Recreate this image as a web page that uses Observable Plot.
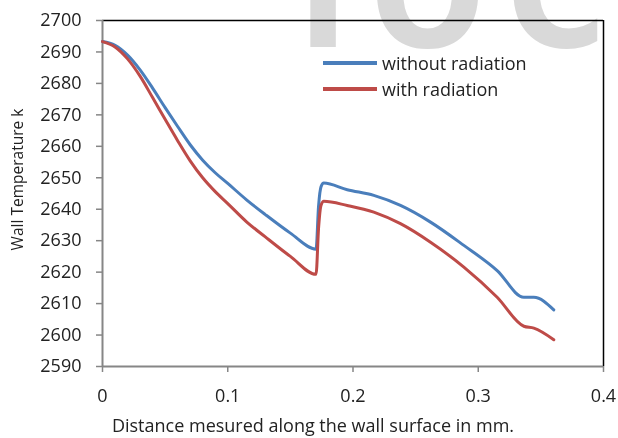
<!DOCTYPE html>
<html><head><meta charset="utf-8">
<script src="https://cdn.jsdelivr.net/npm/d3@7"></script>
<script src="https://cdn.jsdelivr.net/npm/@observablehq/plot@0.6"></script>
<style>
html,body{margin:0;padding:0;background:#fff;}
#wrap{position:relative;width:618px;height:438px;overflow:hidden;font-family:"Open Sans";}
#wm{position:absolute;left:0;top:0;}
#chart{position:absolute;left:0;top:0;}
.legend{position:absolute;left:323px;top:50px;font-size:18px;color:#222;line-height:26px;}
.item{display:flex;align-items:center;height:26px;}
.swatch{width:54px;height:3.5px;margin-right:5px;}
</style></head>
<body><div id="wrap">
<canvas id="wm" width="618" height="438"></canvas>
<div id="chart"></div>
<div class="legend" id="legend"></div>
</div>
<script>
const distance = [0, 0.01, 0.02, 0.03, 0.04, 0.05, 0.06, 0.07, 0.08, 0.09, 0.1, 0.115, 0.13, 0.15, 0.1705, 0.1725, 0.1745, 0.1767, 0.1954, 0.2166, 0.2379, 0.2619, 0.2885, 0.3151, 0.3364, 0.3444, 0.3603];
const withoutRadiation = [2693.3, 2692.1, 2689.0, 2684.3, 2678.5, 2672.3, 2666.3, 2660.5, 2655.6, 2651.6, 2648.2, 2643.0, 2638.3, 2632.4, 2627.3, 2641.0, 2647.2, 2648.3, 2646.2, 2644.4, 2641.2, 2635.9, 2628.5, 2620.5, 2612.0, 2612.0, 2608.0];
const withRadiation = [2693.3, 2691.6, 2687.8, 2682.3, 2675.5, 2668.6, 2661.8, 2655.4, 2650.0, 2645.6, 2641.8, 2636.0, 2631.2, 2625.0, 2619.3, 2634.0, 2641.3, 2642.5, 2641.2, 2639.1, 2635.4, 2629.5, 2621.6, 2612.0, 2602.8, 2602.2, 2598.5];
const seriesNames = ["without radiation", "with radiation"];
const seriesColors = ["#4A7EBB", "#BE4B48"];
const xTicks = [0, 0.1, 0.2, 0.3, 0.4];
const yTicks = [2590, 2600, 2610, 2620, 2630, 2640, 2650, 2660, 2670, 2680, 2690, 2700];
const xTitle = "Distance mesured along the wall surface in mm.";
const yTitle = "Wall Temperature k";
const watermark = "IOC";

// faint background watermark (page artifact behind the chart)
(function () {
  const ctx = document.getElementById("wm").getContext("2d");
  ctx.fillStyle = "#d9d9d9";
  ctx.font = "bold 150px 'DejaVu Sans Condensed', 'DejaVu Sans'";
  let x = 298;
  for (const ch of watermark) {
    ctx.fillText(ch, x, 47);
    x += ctx.measureText(ch).width + 22;
  }
})();

const rows = [];
distance.forEach((d, i) => rows.push({x: d, y: withoutRadiation[i], s: seriesNames[0]}));
distance.forEach((d, i) => rows.push({x: d, y: withRadiation[i], s: seriesNames[1]}));

const xMin = xTicks[0], xMax = xTicks[xTicks.length - 1];
const yMin = yTicks[0], yMax = yTicks[yTicks.length - 1];

const chart = Plot.plot({
  width: 618, height: 438,
  marginLeft: 102, marginRight: 15, marginTop: 20, marginBottom: 72,
  style: {fontFamily: "Open Sans", fontSize: "18px", color: "#222", background: "transparent"},
  x: {domain: [xMin, xMax]},
  y: {domain: [yMin, yMax]},
  color: {domain: seriesNames, range: seriesColors},
  marks: [
    Plot.ruleY([yMax], {stroke: "#000", strokeWidth: 1.5}),
    Plot.ruleX([xMax], {stroke: "#000", strokeWidth: 1.5}),
    Plot.axisX({ticks: xTicks, tickSize: 6, tickPadding: 17, tickFormat: d => String(d), stroke: "#868686", strokeWidth: 1.5, label: null}),
    Plot.axisY({ticks: yTicks, tickSize: 6, tickPadding: 15, tickFormat: d => String(d), stroke: "#868686", strokeWidth: 1.5, label: null}),
    Plot.ruleX([xMin], {stroke: "#868686", strokeWidth: 2}),
    Plot.ruleY([yMin], {stroke: "#868686", strokeWidth: 2}),
    Plot.line(rows, {x: "x", y: "y", z: "s", stroke: "s", strokeWidth: 3, curve: "monotone-x"}),
    Plot.text([xTitle], {frameAnchor: "bottom", textAnchor: "middle", dx: -40, dy: 65, fontSize: 18, fill: "#222"}),
    Plot.text([yTitle], {frameAnchor: "left", textAnchor: "middle", rotate: -90, dx: -84, dy: -14, fontSize: 15.5, fill: "#222"})
  ]
});
document.getElementById("chart").appendChild(chart);

const legend = document.getElementById("legend");
seriesNames.forEach((n, i) => {
  const item = document.createElement("div");
  item.className = "item";
  const sw = document.createElement("div");
  sw.className = "swatch";
  sw.style.background = seriesColors[i];
  item.appendChild(sw);
  const t = document.createElement("span");
  t.textContent = n;
  item.appendChild(t);
  legend.appendChild(item);
});
</script>
</body></html>
